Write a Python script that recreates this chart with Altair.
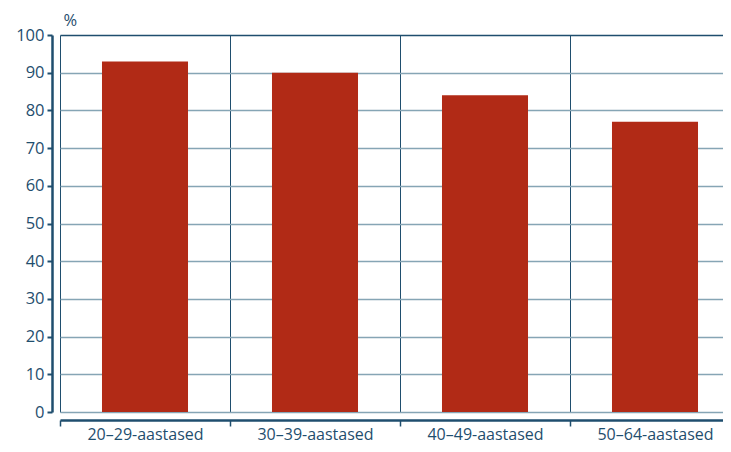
import altair as alt
import pandas as pd

categories = ["20–29-aastased", "30–39-aastased", "40–49-aastased", "50–64-aastased"]
values = [93, 90, 84, 77]

df = pd.DataFrame({"group": categories, "value": values})

NAVY = "#1f4e6e"
GRID = "#86a5b5"
FONT = "Open Sans"

chart = alt.Chart(df).mark_bar(color="#b12a16", width=alt.RelativeBandSize(0.506)).encode(
    x=alt.X("group:N", sort=categories, title=None,
            scale=alt.Scale(paddingInner=0, paddingOuter=0, range=[0, 680]),
            axis=alt.Axis(labelAngle=0, tickBand="extent", grid=True, gridColor=NAVY,
                          gridWidth=1, offset=8, domainColor=NAVY, domainWidth=2.5,
                          tickColor=NAVY, tickWidth=1.5, tickSize=6, labelPadding=0,
                          labelFont=FONT, labelFontSize=16, labelColor=NAVY)),
    y=alt.Y("value:Q", title="%",
            scale=alt.Scale(domain=[0, 100], nice=False),
            axis=alt.Axis(values=list(range(0, 101, 10)), grid=True,
                          gridColor=alt.condition("datum.value == 100", alt.value(NAVY), alt.value(GRID)),
                          gridWidth=1.3, offset=8, domainColor=NAVY, domainWidth=2.5,
                          tickColor=NAVY, tickWidth=2, tickSize=5, labelPadding=3,
                          labelFont=FONT, labelFontSize=16.5, labelColor=NAVY,
                          titleAngle=0, titleAlign="left", titleBaseline="alphabetic",
                          titleX=11, titleY=-10, titleFont=FONT, titleFontSize=16.5,
                          titleFontWeight="normal", titleColor=NAVY)),
).properties(
    width=663, height=377,
    padding={"left": 52, "top": 27, "right": 0, "bottom": 32},
    autosize=alt.AutoSizeParams(type="none"),
).configure_view(stroke=None)

chart.save("out.html", embed_options={"renderer": "svg", "actions": False})
